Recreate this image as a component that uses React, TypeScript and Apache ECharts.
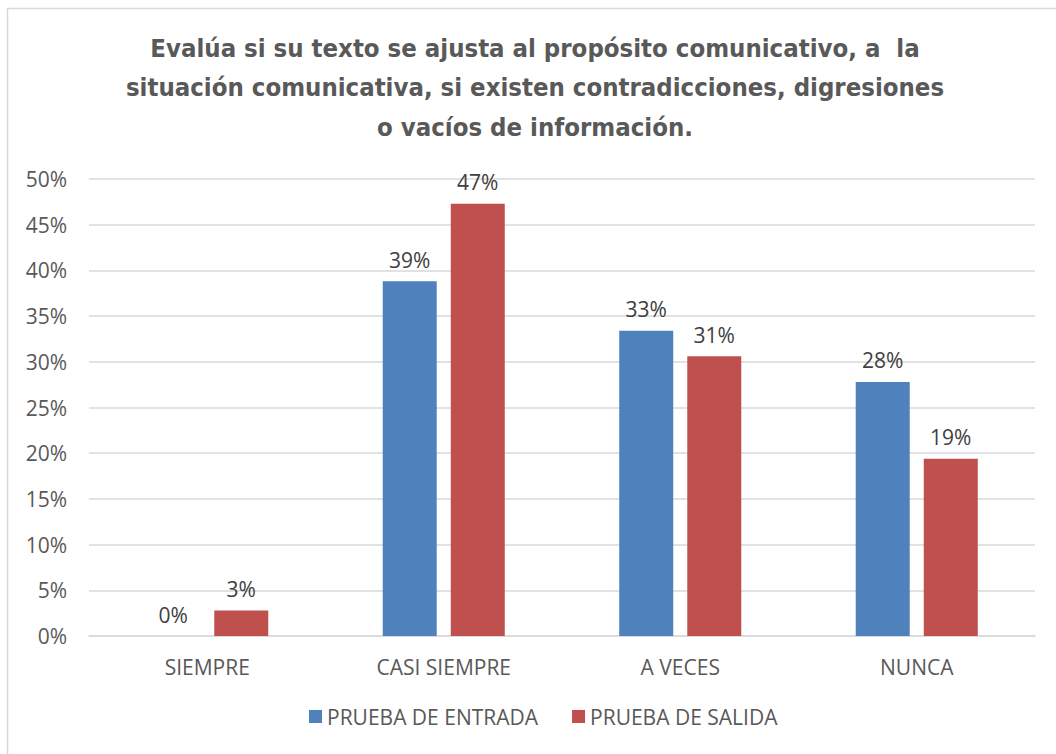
import React, { useEffect, useRef } from "react";
import * as echarts from "echarts";

const categories = ["SIEMPRE", "CASI SIEMPRE", "A VECES", "NUNCA"];
const entrada = [0.0, 38.8, 33.4, 27.8];
const salida = [2.8, 47.3, 30.6, 19.4];
const seriesNames = ["PRUEBA DE ENTRADA", "PRUEBA DE SALIDA"];
const titleText =
  "Evalúa si su texto se ajusta al propósito comunicativo, a  la\nsituación comunicativa, si existen contradicciones, digresiones\no vacíos de información.";

export default function App() {
  const ref = useRef<HTMLDivElement>(null);
  useEffect(() => {
    const chart = echarts.init(ref.current!, null, { renderer: "svg" });
    const font = "'Open Sans', 'Noto Sans', sans-serif";
    const label = {
      show: true,
      position: "top",
      distance: 11,
      color: "#404040",
      fontSize: 21,
      fontFamily: font,
      formatter: (p: any) => Math.round(p.value) + "%",
    };
    chart.setOption({
      animation: false,
      backgroundColor: "#ffffff",
      graphic: [
        {
          type: "rect",
          shape: { x: 7.5, y: 8.5, width: 1060, height: 760 },
          style: { fill: "none", stroke: "#d9d9d9", lineWidth: 1.5 },
          silent: true,
        },
        {
          type: "text",
          x: 535,
          y: 28,
          silent: true,
          style: {
            text: titleText,
            align: "center",
            verticalAlign: "top",
            fill: "#595959",
            fontSize: 25.5,
            fontWeight: "bold",
            fontFamily: "'Liberation Sans Narrow', 'DejaVu Sans Condensed', sans-serif",
            lineHeight: 39.5,
          },
        },
      ],
      legend: {
        data: seriesNames,
        bottom: 22,
        left: 304,
        itemWidth: 13,
        itemHeight: 13,
        itemGap: 34,
        icon: "rect",
        textStyle: { color: "#595959", fontSize: 21, fontFamily: font },
      },
      grid: { left: 89, right: 21, top: 179, bottom: 118 },
      xAxis: {
        type: "category",
        data: categories,
        axisLine: { lineStyle: { color: "#d9d9d9", width: 1.5 } },
        axisTick: { show: false },
        axisLabel: { color: "#595959", fontSize: 21, fontFamily: font, margin: 20 },
      },
      yAxis: {
        type: "value",
        min: 0,
        max: 50,
        interval: 5,
        axisLine: { show: false },
        axisTick: { show: false },
        splitLine: { lineStyle: { color: "#d9d9d9", width: 1.5 } },
        axisLabel: {
          color: "#595959",
          fontSize: 21,
          fontFamily: font,
          margin: 22,
          formatter: (v: number) => v + "%",
        },
      },
      series: [
        {
          name: seriesNames[0],
          type: "bar",
          data: entrada,
          barWidth: 54,
          barGap: "26%",
          itemStyle: { color: "#4f81bd" },
          label,
        },
        {
          name: seriesNames[1],
          type: "bar",
          data: salida,
          barWidth: 54,
          barGap: "26%",
          itemStyle: { color: "#c0504d" },
          label,
        },
      ],
    });
    return () => chart.dispose();
  }, []);
  return (
    <div
      ref={ref}
      style={{ position: "absolute", left: 0, top: 0, width: 1056, height: 754 }}
    />
  );
}
